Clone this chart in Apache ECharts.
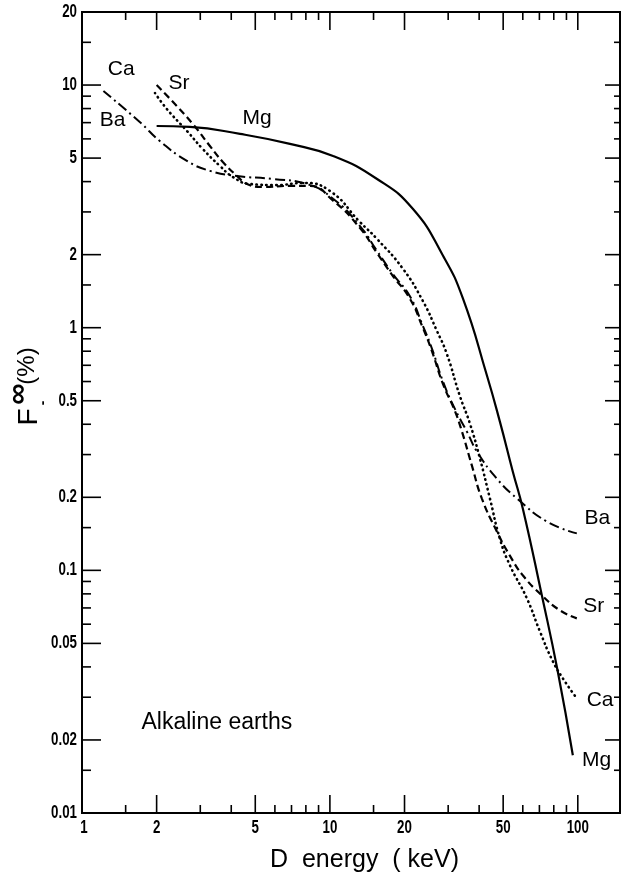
<!DOCTYPE html>
<html>
<head>
<meta charset="utf-8">
<script src="https://cdn.jsdelivr.net/npm/echarts@6/dist/echarts.min.js"></script>
<style>
  html, body { margin: 0; padding: 0; background: #fff; }
  #chart { width: 621px; height: 881px; }
</style>
</head>
<body>
<div id="chart"></div>
<script>
// axis range (log-log)
const X_MIN = 1, X_MAX = 148
const Y_MIN = 0.01, Y_MAX = 20

// tick values
const xMajorTicks = [2, 5, 10, 20, 50, 100]
const xMinorTicks = [1.5, 3, 4, 6, 7, 8, 9, 15, 30, 40, 60, 70, 80, 90]
const yMajorTicks = [0.02, 0.05, 0.1, 0.2, 0.5, 1, 2, 5, 10]
const yMinorTicks = [0.015, 0.03, 0.04, 0.06, 0.07, 0.08, 0.09, 0.15, 0.3, 0.4, 0.6, 0.7, 0.8, 0.9, 1.5, 3, 4, 6, 7, 8, 9, 15]
const xTickLabels = ['1', '2', '5', '10', '20', '50', '100']
const yTickLabels = ['0.01', '0.02', '0.05', '0.1', '0.2', '0.5', '1', '2', '5', '10', '20']

// curves: D energy (keV) -> F (%)
const mgEnergy = [2.0, 2.72, 4.34, 6.9, 10.3, 15.5, 21.6, 28.6, 34.4, 43.0, 48.5, 54.7, 60.0, 71.6, 83.0, 95.5]
const mgF = [6.78, 6.72, 6.29, 5.72, 5.1, 4.1, 3.09, 1.98, 1.32, 0.635, 0.41, 0.255, 0.18, 0.0789, 0.0384, 0.0173]

const baEnergy = [1.22, 1.71, 2.06, 2.65, 3.28, 4.22, 5.89, 8.08, 10.3, 13.2, 15.5, 17.9, 21.0, 23.7, 25.8, 28.6, 31.9, 35.7, 39.2, 47.1, 56.8, 75.0, 99.1]
const baF = [9.45, 7.04, 5.88, 4.87, 4.43, 4.22, 4.1, 3.91, 3.4, 2.63, 2.07, 1.67, 1.35, 1.02, 0.82, 0.599, 0.464, 0.373, 0.309, 0.239, 0.198, 0.159, 0.142]

const srEnergy = [2.0, 2.33, 2.8, 3.28, 3.7, 4.22, 4.63, 5.37, 6.9, 8.3, 10.3, 13.2, 15.5, 17.9, 21.0, 23.7, 25.8, 28.6, 31.9, 34.1, 37.4, 41.0, 47.1, 53.2, 60.0, 71.6, 84.6, 99.1]
const srF = [10.0, 8.51, 6.91, 5.61, 4.82, 4.22, 3.91, 3.8, 3.84, 3.84, 3.34, 2.58, 2.03, 1.64, 1.32, 1.0, 0.8, 0.585, 0.455, 0.373, 0.27, 0.198, 0.145, 0.115, 0.0954, 0.0789, 0.0685, 0.0634]

const caEnergy = [1.97, 2.2, 2.65, 3.07, 3.6, 4.06, 4.76, 6.11, 7.78, 10.0, 13.2, 15.5, 19.7, 23.7, 27.0, 29.6, 33.4, 36.7, 40.3, 44.2, 48.5, 53.2, 62.3, 70.3, 79.3, 88.6, 99.1]
const caF = [9.27, 7.96, 6.47, 5.45, 4.64, 4.18, 3.91, 3.87, 3.95, 3.66, 2.73, 2.32, 1.75, 1.29, 0.972, 0.782, 0.525, 0.403, 0.289, 0.198, 0.135, 0.105, 0.0767, 0.0561, 0.0422, 0.0349, 0.0297]

// text annotations placed in data space
const noteText = ['Ca', 'Ba', 'Sr', 'Mg', 'Ba', 'Sr', 'Ca', 'Mg', 'Alkaline earths']
const noteEnergy = [1.44, 1.33, 2.46, 5.08, 120, 116, 123, 119, 3.5]
const noteF = [11.6, 7.18, 10.2, 7.31, 0.164, 0.0711, 0.0292, 0.0165, 0.0235]

const zip = (xs, ys) => xs.map((x, i) => [x, ys[i]])

const NUM_FONT = "bold 18px 'Liberation Sans', Arial, sans-serif"
const TXT_FONT = "'Liberation Sans', Arial, sans-serif"

function curve(name, xs, ys, dash, width, cap) {
    return {
        name,
        type: 'line',
        data: zip(xs, ys),
        showSymbol: false,
        smooth: 0.5,
        z: 3,
        lineStyle: { color: '#000', width: width, type: dash, cap: cap || 'butt' }
    }
}

function rotText(text, x, y, font) {
    return {
        type: 'text', x, y, rotation: Math.PI / 2,
        style: { text, font, fill: '#000', align: 'center', verticalAlign: 'middle', textAlign: 'center', textVerticalAlign: 'middle' }
    }
}

const chart = echarts.init(document.getElementById('chart'), null, { renderer: 'canvas' })

const option = {
    animation: false,
    backgroundColor: '#fff',
    grid: {
        left: 82, right: 1, top: 12, bottom: 68,
        show: true, borderColor: '#000', borderWidth: 2,
        containLabel: false, outerBoundsMode: 'none'
    },
    xAxis: {
        type: 'log', min: X_MIN, max: X_MAX, logBase: 10,
        axisLine: { show: false }, axisTick: { show: false },
        axisLabel: { show: false }, splitLine: { show: false }, minorTick: { show: false }
    },
    yAxis: {
        type: 'log', min: Y_MIN, max: Y_MAX, logBase: 10,
        axisLine: { show: false }, axisTick: { show: false },
        axisLabel: { show: false }, splitLine: { show: false }, minorTick: { show: false }
    },
    graphic: [
        {
            type: 'text', left: 270, top: 848,
            style: { text: 'D  energy  ( keV)', font: '25px ' + TXT_FONT, fill: '#000' }
        },
        rotText('F', 29, 417, '28px ' + TXT_FONT),
        rotText('\u221E', 19, 394, 'bold 30px ' + TXT_FONT),
        rotText('-', 43, 403, 'bold 14px ' + TXT_FONT),
        rotText('(%)', 27, 366, '24px ' + TXT_FONT)
    ],
    series: [
        curve('Mg', mgEnergy, mgF, 'solid', 2.2),
        curve('Ba', baEnergy, baF, [10, 4, 2, 4], 2),
        curve('Sr', srEnergy, srF, [7, 4], 2.2),
        curve('Ca', caEnergy, caF, [0.5, 4.5], 2.6, 'round'),
        {
            // x ticks, bottom and top, pointing inward
            type: 'custom',
            z: 4,
            silent: true,
            data: xMajorTicks.concat(xMinorTicks).map(v => [v, Y_MIN]),
            renderItem(params, api) {
                const v = api.value(0)
                const len = xMajorTicks.includes(v) ? 18 : 8
                const pb = api.coord([v, Y_MIN])
                const pt = api.coord([v, Y_MAX])
                const st = { stroke: '#000', lineWidth: 1.6 }
                return {
                    type: 'group',
                    children: [
                        { type: 'line', shape: { x1: pb[0], y1: pb[1], x2: pb[0], y2: pb[1] - len }, style: st },
                        { type: 'line', shape: { x1: pt[0], y1: pt[1], x2: pt[0], y2: pt[1] + len }, style: st }
                    ]
                }
            }
        },
        {
            // y ticks, left and right
            type: 'custom',
            z: 4,
            silent: true,
            data: yMajorTicks.concat(yMinorTicks).map(v => [X_MIN, v]),
            renderItem(params, api) {
                const v = api.value(1)
                const major = yMajorTicks.includes(v)
                const pl = api.coord([X_MIN, v])
                const pr = api.coord([X_MAX, v])
                const st = { stroke: '#000', lineWidth: 1.6 }
                return {
                    type: 'group',
                    children: [
                        { type: 'line', shape: { x1: pl[0], y1: pl[1], x2: pl[0] + (major ? 19 : 9), y2: pl[1] }, style: st },
                        { type: 'line', shape: { x1: pr[0], y1: pr[1], x2: pr[0] - (major ? 15 : 6), y2: pr[1] }, style: st }
                    ]
                }
            }
        },
        {
            // x tick labels
            type: 'custom',
            z: 4,
            silent: true,
            data: xTickLabels.map(t => [Number(t), Y_MIN]),
            renderItem(params, api) {
                const v = api.value(0)
                const p = api.coord([v, Y_MIN])
                const t = xTickLabels[params.dataIndex]
                return {
                    type: 'text',
                    x: p[0] + (v === 1 ? 2 : 0), y: p[1] + 15, scaleX: 0.74,
                    style: { text: t, font: NUM_FONT, fill: '#000', align: 'center', verticalAlign: 'middle', textAlign: 'center', textVerticalAlign: 'middle' }
                }
            }
        },
        {
            // y tick labels
            type: 'custom',
            z: 4,
            silent: true,
            data: yTickLabels.map(t => [X_MIN, Number(t)]),
            renderItem(params, api) {
                const v = api.value(1)
                const p = api.coord([X_MIN, v])
                const t = yTickLabels[params.dataIndex]
                return {
                    type: 'text',
                    x: p[0] - 5, y: p[1], scaleX: 0.74,
                    style: { text: t, font: NUM_FONT, fill: '#000', align: 'right', verticalAlign: 'middle', textAlign: 'right', textVerticalAlign: 'middle' }
                }
            }
        },
        {
            // curve names and panel note
            type: 'custom',
            z: 5,
            silent: true,
            data: zip(noteEnergy, noteF),
            renderItem(params, api) {
                const p = api.coord([api.value(0), api.value(1)])
                const t = noteText[params.dataIndex]
                const big = t.length > 3
                return {
                    type: 'text',
                    x: p[0], y: p[1],
                    style: {
                        text: t, font: (big ? '23px ' : '21px ') + TXT_FONT, fill: '#000',
                        align: 'center', verticalAlign: 'middle', textAlign: 'center', textVerticalAlign: 'middle'
                    }
                }
            }
        }
    ]
}

chart.setOption(option)
</script>
</body>
</html>
